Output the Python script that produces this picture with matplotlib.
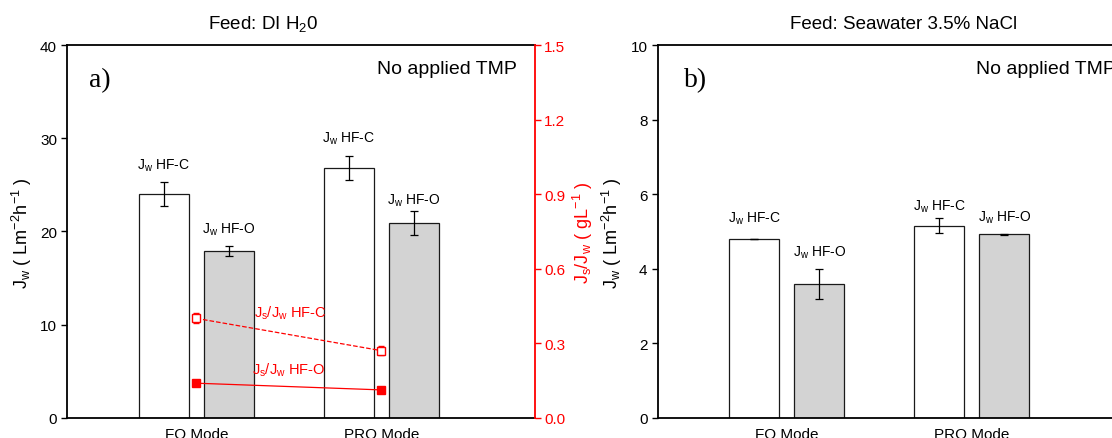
import numpy as np
import matplotlib
matplotlib.use("Agg")
import matplotlib.pyplot as plt
from matplotlib.ticker import FormatStrFormatter

plt.rcParams['font.family'] = ['Liberation Sans', 'DejaVu Sans']
plt.rcParams['mathtext.default'] = 'regular'

# --- Daten ---
modes = ["FO Mode", "PRO Mode"]
x = np.array([1, 2])

# a) Feed: DI H2O
jw_hfc_di = [24.0, 26.85]
jw_hfc_di_err = [1.3, 1.3]
jw_hfo_di = [17.9, 20.9]
jw_hfo_di_err = [0.5, 1.3]
ratio_hfc = [0.400, 0.270]
ratio_hfc_err = [0.020, 0.018]
ratio_hfo = [0.139, 0.112]
ratio_hfo_err = [0.0, 0.0]

# b) Feed: Seawater 3.5% NaCl
jw_hfc_sw = [4.80, 5.16]
jw_hfc_sw_err = [0.0, 0.19]
jw_hfo_sw = [3.60, 4.92]
jw_hfo_sw_err = [0.40, 0.015]

# label positions (data units)
lab_hfc_di = [26.75, 29.67]
lab_hfo_di = [19.88, 23.02]
lab_hfc_sw = [5.26, 5.59]
lab_hfo_sw = [4.35, 5.29]

bw = 0.27
off = 0.1757
edge = "#1a1a1a"
grau = "#d3d3d3"
rot = "#ff0000"

fig = plt.figure(figsize=(11.12, 4.39), dpi=100)
ax1 = fig.add_axes([0.0607, 0.0462, 0.4204, 0.8485])
ax3 = fig.add_axes([0.5917, 0.0462, 0.4204, 0.8485])


def balken(ax, hfc, hfc_err, hfo, hfo_err):
    ax.bar(x - off, hfc, bw, color="white", edgecolor=edge, linewidth=0.9, zorder=2)
    ax.bar(x + off, hfo, bw, color=grau, edgecolor=edge, linewidth=0.9, zorder=2)
    ax.errorbar(x - off, hfc, yerr=hfc_err, fmt="none", ecolor="black",
                elinewidth=0.9, capsize=3, capthick=0.9, zorder=3)
    ax.errorbar(x + off, hfo, yerr=hfo_err, fmt="none", ecolor="black",
                elinewidth=0.9, capsize=3, capthick=0.9, zorder=3)


def achsen(ax):
    ax.set_xlim(0.303, 2.83)
    ax.set_xticks(x)
    ax.set_xticklabels(modes)
    ax.tick_params(axis="x", length=0, pad=6.5, labelsize=11)
    ax.tick_params(axis="y", direction="out", length=4.5, width=1, pad=3, labelsize=11)
    for s in ax.spines.values():
        s.set_linewidth(1.3)


# --- a) ---
balken(ax1, jw_hfc_di, jw_hfc_di_err, jw_hfo_di, jw_hfo_di_err)
achsen(ax1)
ax1.set_ylim(0, 40)
ax1.set_yticks([0, 10, 20, 30, 40])
ax1.spines["right"].set_visible(False)

for i in range(2):
    ax1.text(x[i] - off, lab_hfc_di[i], r"J$_w$ HF-C", ha="center", va="baseline", fontsize=10)
    ax1.text(x[i] + off, lab_hfo_di[i], r"J$_w$ HF-O", ha="center", va="baseline", fontsize=10)

ax2 = ax1.twinx()
ax2.set_ylim(0, 1.5)
ax2.set_yticks(np.arange(0, 1.51, 0.3))
ax2.yaxis.set_major_formatter(FormatStrFormatter("%.1f"))
ax2.tick_params(axis="y", colors=rot, direction="out", length=4.5, width=1, pad=2, labelsize=11)
for k in ["left", "top", "bottom"]:
    ax2.spines[k].set_visible(False)
ax2.spines["right"].set_color(rot)
ax2.spines["right"].set_linewidth(1.3)

ax2.errorbar(x, ratio_hfc, yerr=ratio_hfc_err, fmt="s", ls="--", color=rot,
             mfc="white", mec=rot, ms=5.5, mew=1, lw=0.9, capsize=2.5, capthick=0.9)
ax2.errorbar(x, ratio_hfo, yerr=ratio_hfo_err, fmt="s", ls="-", color=rot,
             mfc=rot, mec=rot, ms=5.5, lw=0.9, capsize=2.5, capthick=0.9)
ax2.text(1.505, 0.408, r"J$_s$/J$_w$ HF-C", color=rot, ha="center", va="baseline", fontsize=10.5)
ax2.text(1.50, 0.176, r"J$_s$/J$_w$ HF-O", color=rot, ha="center", va="baseline", fontsize=10.5)

ax1.text(0.662, 0.9256, "No applied TMP", transform=ax1.transAxes, fontsize=14, va="baseline")
ax1.text(0.046, 0.89, "a)", transform=ax1.transAxes, fontsize=20,
         family="Liberation Serif", va="baseline")

# --- b) ---
balken(ax3, jw_hfc_sw, jw_hfc_sw_err, jw_hfo_sw, jw_hfo_sw_err)
achsen(ax3)
ax3.set_ylim(0, 10)
ax3.set_yticks([0, 2, 4, 6, 8, 10])
for i in range(2):
    ax3.text(x[i] - off, lab_hfc_sw[i], r"J$_w$ HF-C", ha="center", va="baseline", fontsize=10)
    ax3.text(x[i] + off, lab_hfo_sw[i], r"J$_w$ HF-O", ha="center", va="baseline", fontsize=10)
ax3.text(0.681, 0.9256, "No applied TMP", transform=ax3.transAxes, fontsize=14, va="baseline")
ax3.text(0.0556, 0.89, "b)", transform=ax3.transAxes, fontsize=20,
         family="Liberation Serif", va="baseline")

# Achsentitel / Überschriften
fig.text(22 / 1112, 0.469, r"J$_w$ ( Lm$^{-2}$h$^{-1}$ )", rotation=90, ha="center", va="center", fontsize=13)
fig.text(583 / 1112, 0.469, r"J$_s$/J$_w$ ( gL$^{-1}$ )", rotation=90, ha="center", va="center",
         fontsize=13, color=rot)
fig.text(612 / 1112, 0.469, r"J$_w$ ( Lm$^{-2}$h$^{-1}$ )", rotation=90, ha="center", va="center", fontsize=13)
fig.text(0.2365, 0.933, r"Feed: DI H$_2$0", ha="center", va="baseline", fontsize=13.5)
fig.text(0.813, 0.933, "Feed: Seawater 3.5% NaCl", ha="center", va="baseline", fontsize=13.5)

fig.savefig("out.png", dpi=100)
